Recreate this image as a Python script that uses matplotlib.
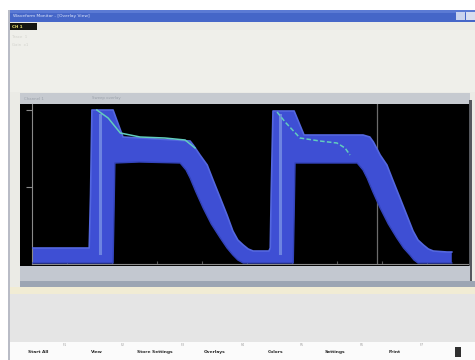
import matplotlib.pyplot as plt
from matplotlib.patches import Rectangle

W, H = 475, 360

# overlaid sweeps: envelope of all captured traces (time in ms, level in mV)
upper_t = [24, 149, 152, 155, 202, 224, 300, 373, 380, 395, 411, 424, 440, 455,
           468, 479, 491, 502, 513, 548, 551, 553, 557, 604, 626, 700, 757, 772,
           780, 795, 810, 823, 839, 854, 868, 879, 891, 902, 913, 943, 954]
upper_v = [7, 7, 60, 145, 145, 118, 116, 114, 110, 100, 90, 75, 57, 40,
           24, 15, 10, 6, 4, 4, 7, 60, 144, 144, 120, 120, 120, 118,
           113, 100, 90, 75, 57, 40, 24, 15, 10, 6, 4, 3, 3]
lower_t = [24, 202, 204, 206, 260, 351, 364, 373, 386, 402, 420, 440, 455, 468,
           479, 491, 602, 604, 606, 680, 744, 757, 766, 779, 795, 813, 832, 847,
           861, 870, 879, 954]
lower_v = [-8, -8, 40, 92, 93, 92, 85, 77, 63, 47, 31, 17, 7, 0,
           -5, -8, -8, 40, 92, 92, 92, 85, 77, 63, 47, 31, 17, 7,
           0, -5, -8, -8]

# latest sweep, drawn over the envelope
trace1_t = [166, 191, 218, 262, 317, 362, 384]
trace1_v = [145, 137, 122, 118, 117, 115, 107]
trace2_t = [566, 584, 617, 661, 699, 717, 728]
trace2_v = [143, 133, 117, 114, 112, 107, 100]

edge_t = [173, 573]      # centre of the rising edges
edge_v = [2, 140]
cursor_t = 788

buttons = ["Start All", "View", "Store Settings", "Overlays", "Colors", "Settings", "Print"]
fkeys = ["F1", "F2", "F3", "F4", "F5", "F6", "F7"]

fig = plt.figure(figsize=(W / 100, H / 100), dpi=100)
fig.patch.set_facecolor('white')


def box(x0, y0, x1, y1, color, z=-1):
    fig.add_artist(Rectangle((x0 / W, 1 - y1 / H), (x1 - x0) / W, (y1 - y0) / H,
                             transform=fig.transFigure, facecolor=color,
                             edgecolor='none', zorder=z))


def label(x, y, s, **kw):
    fig.text(x / W, 1 - y / H, s, va='center', **kw)


# window frame
box(8, 10, 10, 360, '#b9bcc6')
box(10, 22, 475, 342, '#ebebe6')
box(10, 30, 475, 92, '#efefea')
box(10, 10, 475, 22, '#4566c8')
box(10, 10, 475, 13, '#5b7ad4')
box(456, 12, 465, 20, '#c9d3ee')
box(466, 12, 475, 20, '#d8def0')
label(13, 16, "Waveform Monitor - [Overlay View]", fontsize=3.2, color='#dfe6fb')

box(10, 23, 37, 30, '#151510')
label(12, 26.5, "CH 1", fontsize=3, color='#e8e070', fontweight='bold')
label(12, 37, "Trace  1", fontsize=2.8, color='#d2d2cc')
label(12, 45, "Gain  x1", fontsize=2.8, color='#d2d2cc')

# scope panel
box(20, 93, 470, 104, '#c6cad0')
label(24, 98.5, "Channel 1", fontsize=2.8, color='#9ba1aa')
label(92, 98.5, "Sweep overlay", fontsize=2.8, color='#9ba1aa')
box(20, 104, 470, 266, 'black')
box(469, 100, 472, 283, '#55585e')
box(20, 266, 470, 281, '#c3c8d0')
box(20, 281, 475, 287, '#9ca5b3')
box(10, 287, 475, 294, '#f1ecd4')
box(10, 294, 475, 342, '#e5e5e5')

ax = fig.add_axes([32 / W, (H - 264) / H, 436 / W, 160 / H])
ax.set_facecolor('black')
ax.set_xlim(22, 990)
ax.set_ylim(-9, 151)

ax.fill(upper_t + lower_t[::-1], upper_v + lower_v[::-1],
        color='#3e4fd4', lw=0, zorder=2)
ax.plot(upper_t, upper_v, color='#5467df', lw=1.2, zorder=3)
ax.plot(lower_t, lower_v, color='#3343b8', lw=1.0, zorder=3)
for t in edge_t:
    ax.plot([t, t], edge_v, color='#7d97e6', lw=2.2, alpha=0.75, zorder=3)
ax.plot(trace1_t, trace1_v, color='#62cdbd', lw=1.1, zorder=4)
ax.plot(trace2_t, trace2_v, color='#62cdbd', lw=1.1, ls=(0, (3, 1.5)), zorder=4)
ax.axvline(cursor_t, color='#6c6c6c', lw=0.9, zorder=1)

for side in ['top', 'right']:
    ax.spines[side].set_visible(False)
for side in ['left', 'bottom']:
    ax.spines[side].set_color('#8a8a8a')
    ax.spines[side].set_linewidth(0.8)
ax.set_yticks([68, 145])
ax.set_xticks(range(100, 1000, 100))
ax.tick_params(axis='y', length=4, color='#8a8a8a', labelleft=False)
ax.tick_params(axis='x', length=2, color='#5a5a5a', direction='in', labelbottom=False)

# toolbar
box(10, 342, 475, 360, '#fbfbfb')
button_x = [38, 97, 155, 215, 276, 335, 395]
key_x = [65, 123, 183, 243, 302, 362, 422]
for name, x in zip(buttons, button_x):
    label(x, 352, name, fontsize=3.2, color='#2a2a2a', ha='center', fontweight='bold')
for key, x in zip(fkeys, key_x):
    label(x, 345, key, fontsize=2.4, color='#a0a0a0', ha='center')
    box(x - 4.5, 347, x - 4, 358, '#d0d0d0')
box(455, 347, 461, 357, '#303030')

fig.savefig('out.png', dpi=100)
